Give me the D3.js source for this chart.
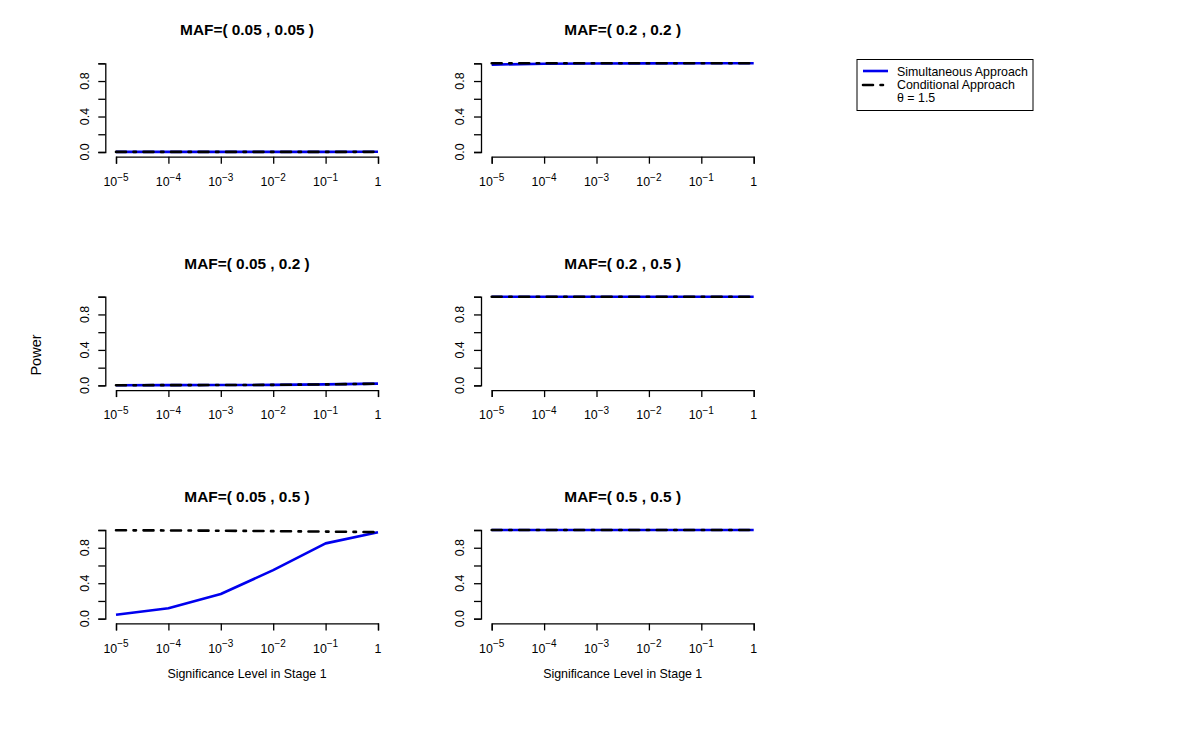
<!DOCTYPE html>
<html>
<head>
<meta charset="utf-8">
<script src="https://cdn.jsdelivr.net/npm/d3@7"></script>
<style>
  body { margin: 0; background: #fff; }
  svg { font-family: "Liberation Sans", Arial, Helvetica, sans-serif; }
</style>
</head>
<body>
<div id="plot"></div>
<script>
// stage-1 significance levels (x)
var alphas = [1e-5, 1e-4, 1e-3, 1e-2, 1e-1, 1];
var alphaExp = ['\u22125', '\u22124', '\u22123', '\u22122', '\u22121', ''];
var yTicks = [0, 0.2, 0.4, 0.6, 0.8, 1.0];
var yLabels = [0, 0.4, 0.8];

var titles = [
  'MAF=( 0.05 , 0.05 )', 'MAF=( 0.2 , 0.2 )',
  'MAF=( 0.05 , 0.2 )',  'MAF=( 0.2 , 0.5 )',
  'MAF=( 0.05 , 0.5 )',  'MAF=( 0.5 , 0.5 )'
];

// power, simultaneous approach
var simul = [
  [0.001, 0.001, 0.001, 0.001, 0.001, 0.002],
  [0.985, 0.995, 0.998, 0.999, 1.0, 1.0],
  [0.002, 0.003, 0.004, 0.006, 0.011, 0.020],
  [1.0, 1.0, 1.0, 1.0, 1.0, 1.0],
  [0.045, 0.117, 0.279, 0.547, 0.849, 0.975],
  [1.0, 1.0, 1.0, 1.0, 1.0, 1.0]
];

// power, conditional approach
var condit = [
  [0.001, 0.001, 0.001, 0.001, 0.001, 0.002],
  [1.0, 1.0, 1.0, 1.0, 1.0, 1.0],
  [0.002, 0.003, 0.004, 0.006, 0.011, 0.020],
  [1.0, 1.0, 1.0, 1.0, 1.0, 1.0],
  [0.997, 0.995, 0.992, 0.987, 0.982, 0.976],
  [1.0, 1.0, 1.0, 1.0, 1.0, 1.0]
];

var legendLabels = ['Simultaneous Approach', 'Conditional Approach', '\u03b8 = 1.5'];

var W = 1200, H = 743;
var colX = [116, 491.7];
var rowTop = [63.3, 296.7, 530];
var pw = 262, ph = 88.7;
var fs = 12.4;
var dash = '10,7.5,2.5,7.5';

var svg = d3.select('#plot').append('svg')
  .attr('width', W)
  .attr('height', H);

svg.append('rect').attr('width', W).attr('height', H).attr('fill', '#fff');

titles.forEach(function(t, i) {

  var col = i % 2, row = Math.floor(i / 2);
  var x0 = colX[col], y0 = rowTop[row];

  var xs = d3.scaleLog().domain([1e-5, 1]).range([x0, x0 + pw]);
  var ys = d3.scaleLinear().domain([0, 1]).range([y0 + ph, y0]);

  var g = svg.append('g');

  // y axis
  var yax = d3.axisLeft(ys).tickValues(yTicks).tickSizeOuter(0).tickSize(7)
    .tickFormat('');
  var gy = g.append('g')
    .attr('transform', 'translate(' + (x0 - 10.7) + ',0)')
    .call(yax);
  gy.selectAll('path, line').attr('stroke', '#000').attr('stroke-width', 1.3);

  yLabels.forEach(function(v) {
    g.append('text')
      .attr('transform', 'translate(' + (x0 - 27.5) + ',' + ys(v) + ') rotate(-90)')
      .attr('text-anchor', 'middle')
      .attr('font-size', fs)
      .text(d3.format('.1f')(v));
  });

  // x axis
  var xax = d3.axisBottom(xs).tickValues(alphas).tickSizeOuter(0).tickSize(7)
    .tickFormat('');
  var gx = g.append('g')
    .attr('transform', 'translate(0,' + (y0 + ph + 4.7) + ')')
    .call(xax);
  gx.selectAll('path, line').attr('stroke', '#000').attr('stroke-width', 1.3);

  alphas.forEach(function(a, k) {
    var tx = g.append('text')
      .attr('x', xs(a))
      .attr('y', y0 + ph + 34)
      .attr('text-anchor', 'middle')
      .attr('font-size', fs);
    if ( alphaExp[k] ) {
      tx.append('tspan').text('10');
      tx.append('tspan').attr('dy', -5.5).attr('font-size', 10).text(alphaExp[k]);
    } else {
      tx.text('1');
    }
  });

  // title
  g.append('text')
    .attr('x', x0 + pw / 2)
    .attr('y', y0 - 28)
    .attr('text-anchor', 'middle')
    .attr('font-size', 15.4)
    .attr('font-weight', 'bold')
    .text(t);

  if ( row == 2 ) {
    g.append('text')
      .attr('x', x0 + pw / 2)
      .attr('y', y0 + ph + 59)
      .attr('text-anchor', 'middle')
      .attr('font-size', fs)
      .text('Significance Level in Stage 1');
  }

  var line = d3.line()
    .x(function(d, k) { return xs(alphas[k]); })
    .y(function(d) { return ys(d); });

  g.append('path')
    .datum(simul[i])
    .attr('d', line)
    .attr('fill', 'none')
    .attr('stroke', '#0000ee')
    .attr('stroke-width', 2.6)
    .attr('stroke-linejoin', 'round');

  g.append('path')
    .datum(condit[i])
    .attr('d', line)
    .attr('fill', 'none')
    .attr('stroke', '#000')
    .attr('stroke-width', 2.6)
    .attr('stroke-linecap', 'round')
    .attr('stroke-dasharray', dash);

});

// y label
svg.append('text')
  .attr('transform', 'translate(41,355) rotate(-90)')
  .attr('text-anchor', 'middle')
  .attr('font-size', 14.5)
  .text('Power');

// legend
var lg = svg.append('g');
lg.append('rect')
  .attr('x', 857).attr('y', 59.5)
  .attr('width', 176).attr('height', 51)
  .attr('fill', '#fff')
  .attr('stroke', '#000')
  .attr('stroke-width', 1);

var ly = [72, 85, 98];
lg.append('line')
  .attr('x1', 863).attr('x2', 888).attr('y1', ly[0] - 1).attr('y2', ly[0] - 1)
  .attr('stroke', '#0000ee').attr('stroke-width', 2.6);
lg.append('line')
  .attr('x1', 863).attr('x2', 888).attr('y1', ly[1]).attr('y2', ly[1])
  .attr('stroke', '#000').attr('stroke-width', 2.6)
  .attr('stroke-linecap', 'round')
  .attr('stroke-dasharray', dash);

legendLabels.forEach(function(s, k) {
  lg.append('text')
    .attr('x', 897)
    .attr('y', ly[k] + 4)
    .attr('font-size', fs)
    .text(s);
});
</script>
</body>
</html>
